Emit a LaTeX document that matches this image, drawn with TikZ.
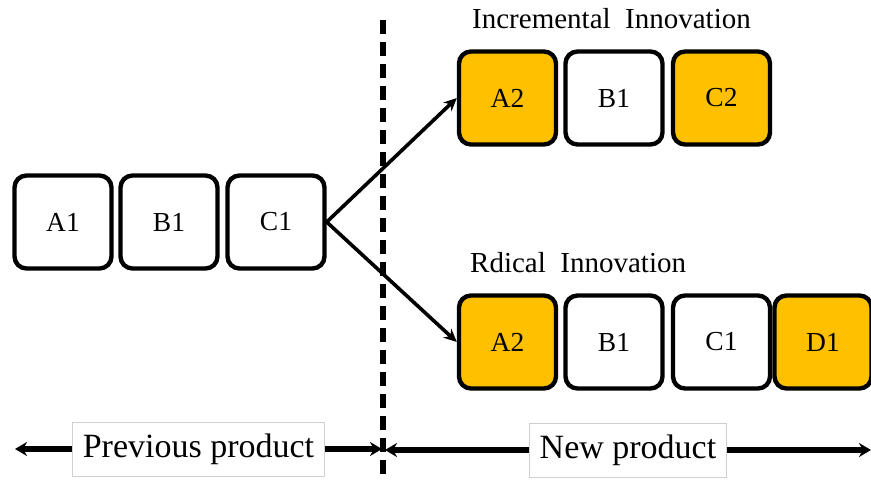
\documentclass[tikz,border=0pt]{standalone}
\usepackage{fontspec}
\setmainfont{Liberation Serif}
\usetikzlibrary{arrows.meta}
\definecolor{innogold}{HTML}{FFC000}
\definecolor{innoink}{HTML}{000000}
\definecolor{innoframe}{HTML}{D0D0D0}
\tikzset{
  part/.style={draw=innoink, line width=4.4pt, rounded corners=12pt, minimum width=97pt, minimum height=93pt, inner sep=0pt, font=\fontsize{27.5}{30}\selectfont},
  plain/.style={part, fill=white},
  chg/.style={part, fill=innogold},
  ttl/.style={anchor=west, inner sep=0pt, font=\fontsize{29}{30}\selectfont},
  arr/.style={-{Stealth[length=13pt, width=12pt]}, line width=3.6pt, color=innoink},
  span/.style={{Stealth[length=12pt, width=14pt]}-{Stealth[length=12pt, width=14pt]}, line width=5.4pt, color=innoink},
  lblbox/.style={draw=innoframe, line width=0.8pt, fill=white, inner xsep=10pt, minimum height=54pt, font=\fontsize{34}{38}\selectfont},
  cut/.style={line width=5.5pt, dash pattern=on 14pt off 8pt, color=innoink},
}
\begin{document}
\begin{tikzpicture}[x=1pt, y=-1pt]
  \useasboundingbox (0,0) rectangle (871,482);
  % previous product
  \foreach \nm/\x/\tx in {prevA/63/A1, prevB/169/B1, prevC/276/C1}
    \node[plain] (\nm) at (\x,222) {\tx};
  % boundary between old and new
  \coordinate (cuttop) at (383,20);
  \coordinate (cutbot) at (383,482);
  \draw[cut] (cuttop) -- (cutbot);
  % incremental
  \node[ttl] (inctitle) at (472,19) {Incremental\ \ Innovation};
  \foreach \nm/\x/\tx/\st in {incA/507.5/A2/chg, incB/614/B1/plain, incC/721.5/C2/chg}
    \node[\st] (\nm) at (\x,98) {\tx};
  % radical
  \node[ttl] (radtitle) at (470,263) {Rdical\ \ Innovation};
  \foreach \nm/\x/\tx/\st in {radA/507.5/A2/chg, radB/614/B1/plain, radC/721.5/C1/plain, radD/823/D1/chg}
    \node[\st] (\nm) at (\x,342) {\tx};
  \draw[arr] (prevC.east) -- (incA.west);
  \draw[arr] (prevC.east) -- (radA.west);
  % time span
  \coordinate (oldend) at (15,449);
  \coordinate (oldsplit) at (382,449);
  \coordinate (newsplit) at (385,450);
  \coordinate (newend) at (871,450);
  \draw[span] (oldend) -- (oldsplit) node[midway, lblbox] (oldlbl) {Previous product};
  \draw[span] (newsplit) -- (newend) node[midway, lblbox] (newlbl) {New product};
\end{tikzpicture}
\end{document}
